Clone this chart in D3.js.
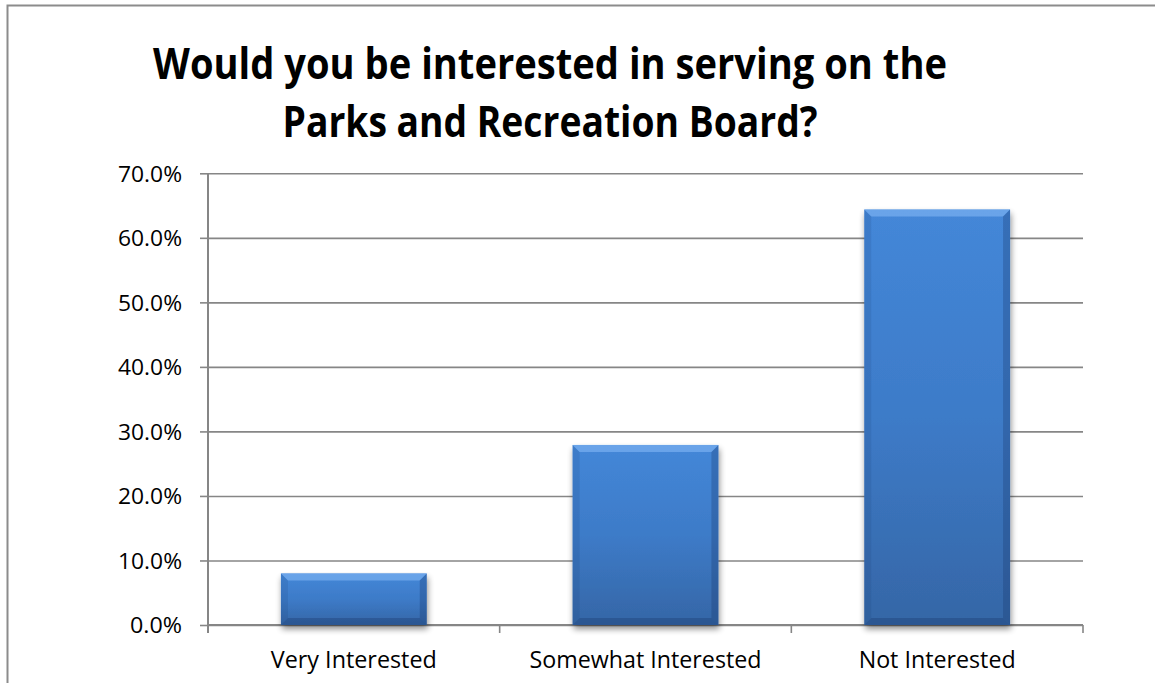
<!DOCTYPE html>
<html><head><meta charset="utf-8">
<script src="https://cdn.jsdelivr.net/npm/d3@7"></script>
<style>
html,body{margin:0;padding:0;background:#fff;}
svg{display:block;}
text{font-family:"Open Sans","Noto Sans",sans-serif;fill:#000;}
</style></head>
<body>
<svg id="chart" width="1155" height="683"></svg>
<script>
const categories = ["Very Interested", "Somewhat Interested", "Not Interested"];
const values = [0.080, 0.279, 0.644];
const yTicks = [0, 0.1, 0.2, 0.3, 0.4, 0.5, 0.6, 0.7];
const titleLines = ["Would you be interested in serving on the", "Parks and Recreation Board?"];

const svg = d3.select("#chart");
const W = 1155, H = 683;
const plot = {left: 208, right: 1083, top: 173.3, bottom: 625};

// outer border
svg.append("rect").attr("x", 7.5).attr("y", 5.5).attr("width", W + 20).attr("height", H + 20)
  .attr("fill", "#fff").attr("stroke", "#8c8c8c").attr("stroke-width", 2);

const x = d3.scaleBand().domain(categories).range([plot.left, plot.right])
  .paddingInner(0.5).paddingOuter(0.25);
const y = d3.scaleLinear().domain([0, 0.7]).range([plot.bottom, plot.top]);

const defs = svg.append("defs");
const grad = defs.append("linearGradient").attr("id", "barGrad")
  .attr("x1", 0).attr("y1", 0).attr("x2", 0).attr("y2", 1);
grad.append("stop").attr("offset", "0%").attr("stop-color", "#4487d8");
grad.append("stop").attr("offset", "50%").attr("stop-color", "#3d7bc8");
grad.append("stop").attr("offset", "100%").attr("stop-color", "#3566a6");
const shadow = defs.append("filter").attr("id", "shadow")
  .attr("x", "-10%").attr("y", "-10%").attr("width", "120%").attr("height", "130%");
shadow.append("feGaussianBlur").attr("in", "SourceAlpha").attr("stdDeviation", 3);
shadow.append("feOffset").attr("dx", 1).attr("dy", 4).attr("result", "ob");
shadow.append("feComponentTransfer").append("feFuncA").attr("type", "linear").attr("slope", 0.45);
const fm = shadow.append("feMerge");
fm.append("feMergeNode");
fm.append("feMergeNode").attr("in", "SourceGraphic");

// gridlines + y tick marks
const yAxis = d3.axisLeft(y).tickValues(yTicks).tickSize(8).tickPadding(18)
  .tickFormat(d => (d * 100).toFixed(1) + "%");
const gy = svg.append("g").attr("transform", `translate(${plot.left},0)`).call(yAxis);
gy.select(".domain").attr("stroke", "#868686").attr("stroke-width", 2).attr("d", `M0,${plot.top}V${plot.bottom + 8}`);
gy.selectAll(".tick line").attr("stroke", "#868686").attr("stroke-width", 1.6);
gy.selectAll(".tick").append("line").attr("class", "grid")
  .attr("x1", 0).attr("x2", plot.right - plot.left)
  .attr("stroke", "#868686").attr("stroke-width", 1.6);
gy.selectAll(".tick text").attr("font-size", 21.5).attr("dy", "0.36em").attr("fill", "#000")
  .attr("textLength", d => d === 0 ? 52 : 64).attr("lengthAdjust", "spacingAndGlyphs");

// x axis
const gx = svg.append("g").attr("transform", `translate(0,${plot.bottom})`);
const bounds = categories.map(c => x(c) - x.step() * x.paddingInner() / 2).concat([plot.right]);
gx.append("line").attr("x1", plot.left).attr("x2", plot.right).attr("y1", 0).attr("y2", 0)
  .attr("stroke", "#868686").attr("stroke-width", 2);
gx.selectAll("line.tk").data(bounds).join("line").attr("class", "tk")
  .attr("x1", d => d).attr("x2", d => d).attr("y1", 0).attr("y2", 8)
  .attr("stroke", "#868686").attr("stroke-width", 1.6);
const catWidths = [166, 232, 157];
gx.selectAll("text").data(categories).join("text")
  .attr("x", d => x(d) + x.bandwidth() / 2).attr("y", 42.5)
  .attr("text-anchor", "middle").attr("font-size", 23)
  .attr("textLength", (d, i) => catWidths[i]).attr("lengthAdjust", "spacingAndGlyphs")
  .text(d => d);

// bars
const data = categories.map((c, i) => ({c, v: values[i]}));
const bars = svg.append("g").selectAll("g").data(data).join("g");
bars.append("rect").attr("filter", "url(#shadow)")
  .attr("x", d => x(d.c)).attr("width", x.bandwidth())
  .attr("y", d => y(d.v)).attr("height", d => y(0) - y(d.v))
  .attr("fill", "url(#barGrad)");
const b = 7;
function bevel(d, side) {
  const x0 = x(d.c), x1 = x0 + x.bandwidth(), y0 = y(d.v), y1 = y(0);
  if (side === "top") return [[x0, y0], [x1, y0], [x1 - b, y0 + b], [x0 + b, y0 + b]];
  if (side === "left") return [[x0, y0], [x0 + b, y0 + b], [x0 + b, y1 - b], [x0, y1]];
  if (side === "right") return [[x1, y0], [x1 - b, y0 + b], [x1 - b, y1 - b], [x1, y1]];
  return [[x0, y1], [x0 + b, y1 - b], [x1 - b, y1 - b], [x1, y1]];
}
const bevelFill = {top: "rgba(150,200,255,0.45)", left: "rgba(20,50,100,0.12)", right: "rgba(20,50,100,0.28)", bottom: "rgba(20,50,100,0.3)"};
["top", "left", "right", "bottom"].forEach(s => {
  bars.append("polygon").attr("points", d => bevel(d, s).map(p => p.join(",")).join(" "))
    .attr("fill", bevelFill[s]);
});

// title
const title = svg.append("g");
const tl = [{t: titleLines[0], y: 79, w: 794}, {t: titleLines[1], y: 137, w: 535}];
tl.forEach(l => {
  title.append("text").attr("x", 550).attr("y", l.y).attr("text-anchor", "middle")
    .attr("font-size", 43).attr("font-weight", "bold")
    .attr("textLength", l.w).attr("lengthAdjust", "spacingAndGlyphs").text(l.t);
});
</script>
</body></html>
